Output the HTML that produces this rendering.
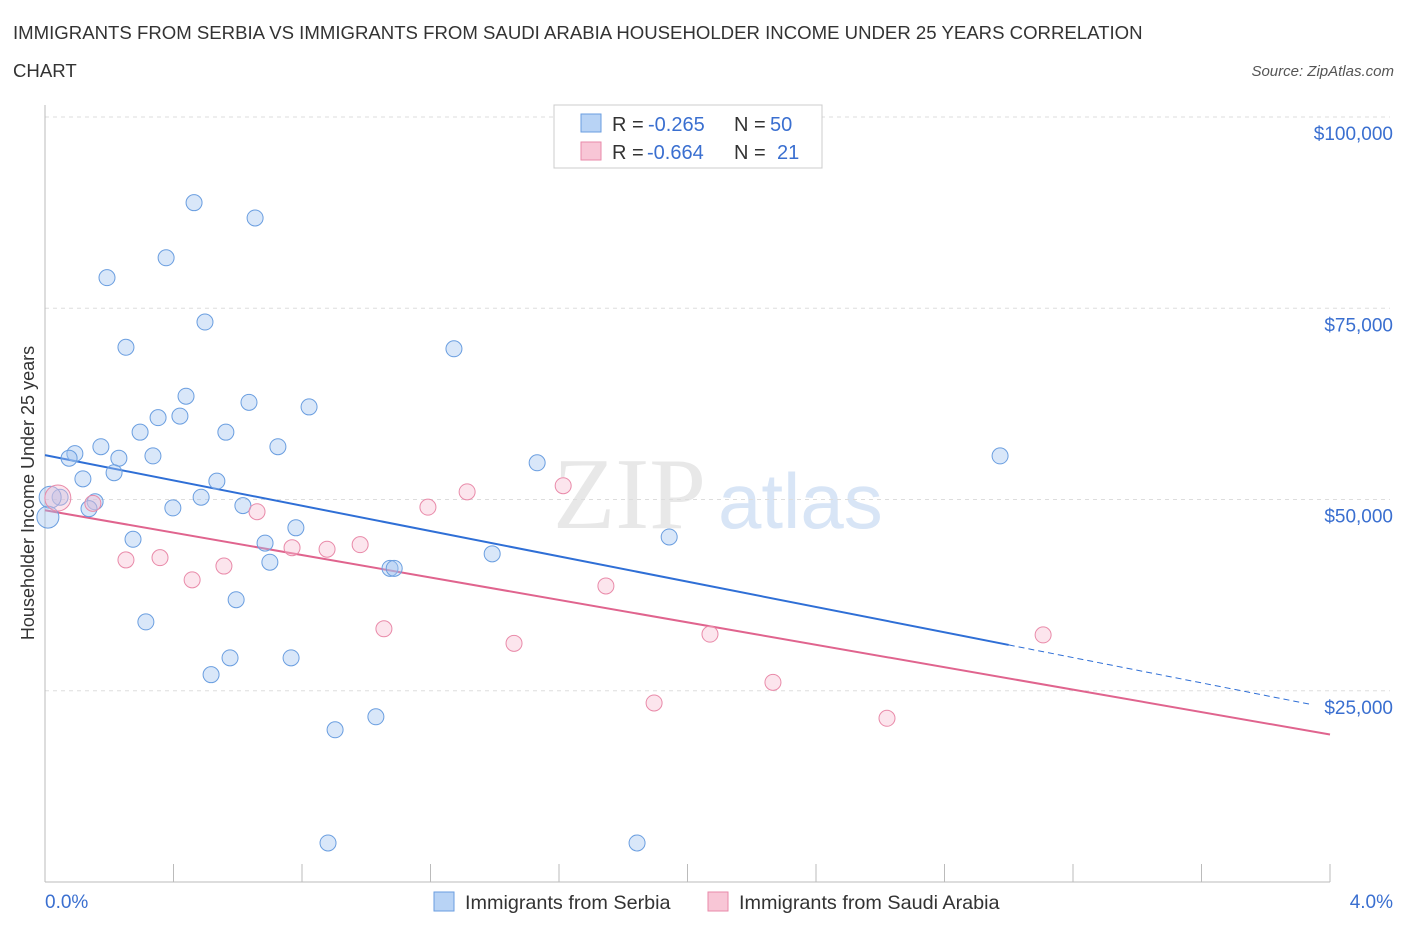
<!DOCTYPE html>
<html><head><meta charset="utf-8">
<style>
body{margin:0;background:#fff;font-family:"Liberation Sans",sans-serif;}
svg{display:block}
</style></head>
<body>
<svg id="chart" width="1406" height="930" xmlns="http://www.w3.org/2000/svg">
<text x="13" y="39" font-size="18.6" fill="#333">IMMIGRANTS FROM SERBIA VS IMMIGRANTS FROM SAUDI ARABIA HOUSEHOLDER INCOME UNDER 25 YEARS CORRELATION</text>
<text x="13" y="77" font-size="18.6" fill="#333">CHART</text>
<text x="1394" y="76" font-size="15" fill="#555" font-style="italic" text-anchor="end">Source: ZipAtlas.com</text>
<g>
<text x="553" y="528" font-size="102" fill="#e8e8e8" font-family="Liberation Serif,serif">ZIP</text>
<text x="718" y="528" font-size="78" fill="#d8e5f6">atlas</text>
</g>
<g id="grid"></g>
<g id="axes"></g>
<g id="lines"></g>
<g id="points"></g>
<text transform="translate(34,493) rotate(-90)" font-size="18" fill="#333" text-anchor="middle">Householder Income Under 25 years</text>
<g>
<rect x="554" y="105" width="268" height="63" fill="#fff" stroke="#ccc"/>
<rect x="581" y="114" width="20" height="18" fill="#b8d3f5" stroke="#6a9ee0"/>
<text x="612" y="131" font-size="20" fill="#333">R =</text>
<text x="648" y="131" font-size="20" fill="#3a6fd0">-0.265</text>
<text x="734" y="131" font-size="20" fill="#333">N =</text>
<text x="770" y="131" font-size="20" fill="#3a6fd0">50</text>
<rect x="581" y="142" width="20" height="18" fill="#f8c6d6" stroke="#e98aa9"/>
<text x="612" y="159" font-size="20" fill="#333">R =</text>
<text x="647" y="159" font-size="20" fill="#3a6fd0">-0.664</text>
<text x="734" y="159" font-size="20" fill="#333">N =</text>
<text x="777" y="159" font-size="20" fill="#3a6fd0">21</text>
</g>
<g>
<rect x="434" y="892" width="20" height="19" fill="#b8d3f5" stroke="#6a9ee0"/>
<text x="465" y="909" font-size="19.8" fill="#333">Immigrants from Serbia</text>
<rect x="708" y="892" width="20" height="19" fill="#f8c6d6" stroke="#e98aa9"/>
<text x="739" y="909" font-size="19.8" fill="#333">Immigrants from Saudi Arabia</text>
</g>
</svg>
<script>
const serbiaX=[0.464,0.654,0.377,0.193,0.498,0.252,1.273,0.439,0.635,0.822,0.352,0.420,0.296,0.563,0.174,0.725,0.093,0.075,0.230,0.336,1.532,2.973,0.118,0.215,0.535,0.047,0.156,0.486,0.137,0.398,0.616,0.781,0.274,0.685,1.943,1.392,0.700,1.074,1.087,0.595,0.314,0.576,0.766,0.517,1.030,0.903,0.881,1.843,0.016,0.009];
const serbiaY=[88.8,86.8,81.6,79.0,73.2,69.9,69.7,63.5,62.7,62.1,60.7,60.9,58.8,58.8,56.9,56.9,56.0,55.4,55.4,55.7,54.8,55.7,52.7,53.5,52.4,50.3,49.7,50.3,48.8,48.9,49.2,46.3,44.8,44.3,45.1,42.9,41.8,41.0,41.0,36.9,34.0,29.3,29.3,27.1,21.6,19.9,5.1,5.1,50.3,47.7];
const saudiX=[0.040,0.149,0.660,1.192,1.314,1.613,0.252,0.358,0.458,0.557,0.769,0.878,0.981,1.055,1.460,1.746,2.070,2.266,1.896,2.621,3.107];
const saudiY=[50.2,49.5,48.4,49.0,51.0,51.8,42.1,42.4,39.5,41.3,43.7,43.5,44.1,33.1,31.2,38.7,32.4,26.1,23.4,21.4,32.3];
const serbiaTrend=[55.8,-8.27];
const saudiTrend=[48.6,-7.33];
const yTicks=[25,50,75,100];
const yTickLabels=["$25,000","$50,000","$75,000","$100,000"];
const xTicks=[0,0.4,0.8,1.2,1.6,2.0,2.4,2.8,3.2,3.6,4.0];

const NS="http://www.w3.org/2000/svg";
const X=v=>45+v*1285/4;
const Y=v=>882-v*7.65;
function mk(tag,attrs,parent){const e=document.createElementNS(NS,tag);for(const k in attrs)e.setAttribute(k,attrs[k]);document.getElementById(parent).appendChild(e);return e;}

yTicks.forEach((t,i)=>{
 const g=mk('line',{x1:45,x2:1390,y1:Y(t),y2:Y(t),stroke:'#ddd','stroke-dasharray':'4,4'},'grid');
 
 
 const l=mk('text',{x:1393,y:Y(t)+23,'font-size':19,fill:'#3a6fd0','text-anchor':'end'},'axes');
 l.textContent=yTickLabels[i];
 
 
});
const ax=mk('line',{x1:45,x2:45,y1:105,y2:882,stroke:'#bbb'},'axes');


const bx=mk('line',{x1:45,x2:1330,y1:882,y2:882,stroke:'#bbb'},'axes');


xTicks.forEach(t=>{
 const e=mk('line',{x1:X(t),x2:X(t),y1:864,y2:882,stroke:'#bbb'},'axes');
 
 
});
const x0=mk('text',{x:45,y:908,'font-size':19,fill:'#3a6fd0'},'axes');x0.textContent='0.0%';


const x1=mk('text',{x:1393,y:908,'font-size':19,fill:'#3a6fd0','text-anchor':'end'},'axes');x1.textContent='4.0%';



const bs=mk('line',{x1:X(0),y1:Y(serbiaTrend[0]),x2:X(3.0),y2:Y(serbiaTrend[0]+serbiaTrend[1]*3.0),stroke:'#2f6fd6','stroke-width':2},'lines');


const bd=mk('line',{x1:X(3.0),y1:Y(serbiaTrend[0]+serbiaTrend[1]*3.0),x2:X(3.94),y2:Y(serbiaTrend[0]+serbiaTrend[1]*3.94),stroke:'#2f6fd6','stroke-width':1,'stroke-dasharray':'6,4'},'lines');


const ps=mk('line',{x1:X(0),y1:Y(saudiTrend[0]),x2:X(4),y2:Y(saudiTrend[0]+saudiTrend[1]*4),stroke:'#e0648e','stroke-width':2},'lines');



serbiaX.forEach((v,i)=>{
 const r=(i>=48)?11:8;
 const c=mk('circle',{cx:X(v),cy:Y(serbiaY[i]),r:r,fill:'rgba(160,196,240,0.4)',stroke:'#6a9ee0','stroke-width':1},'points');
 
 
});
saudiX.forEach((v,i)=>{
 const r=(i==0)?13:8;
 const c=mk('circle',{cx:X(v),cy:Y(saudiY[i]),r:r,fill:'rgba(248,190,210,0.4)',stroke:'#e98aa9','stroke-width':1},'points');
 
 
});
</script>
</body></html>
